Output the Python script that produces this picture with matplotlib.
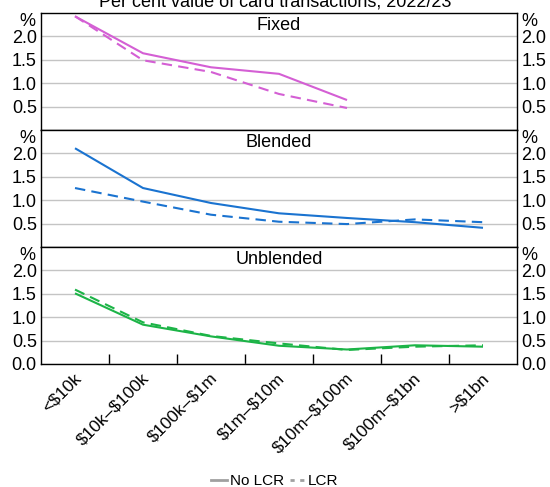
import matplotlib.pyplot as plt
from matplotlib.lines import Line2D
from matplotlib.transforms import ScaledTranslation
import numpy as np

plt.rcParams['font.family'] = ['Liberation Sans', 'DejaVu Sans']

# data
categories = ["<\\$10k", "\\$10k–\\$100k", "\\$100k–\\$1m", "\\$1m–\\$10m",
              "\\$10m–\\$100m", "\\$100m–\\$1bn", ">\\$1bn"]
fixed_no_lcr = [2.43, 1.64, 1.34, 1.20, 0.64]
fixed_lcr = [2.43, 1.49, 1.24, 0.77, 0.47]
blended_no_lcr = [2.11, 1.26, 0.94, 0.72, 0.62, 0.53, 0.41]
blended_lcr = [1.26, 0.97, 0.69, 0.54, 0.49, 0.59, 0.53]
unblended_no_lcr = [1.51, 0.84, 0.59, 0.39, 0.31, 0.40, 0.37]
unblended_lcr = [1.59, 0.89, 0.60, 0.44, 0.30, 0.37, 0.40]

panels = [
    ("Fixed", fixed_no_lcr, fixed_lcr, "#d45fd4"),
    ("Blended", blended_no_lcr, blended_lcr, "#1a73d0"),
    ("Unblended", unblended_no_lcr, unblended_lcr, "#1cb447"),
]

W, H = 550, 487
fig = plt.figure(figsize=(W / 100, H / 100), dpi=100)

left, right = 41 / W, 517 / W
tops = [13, 130, 247]
ph = 117
fs = 13

for i, (name, solid, dashed, col) in enumerate(panels):
    y0 = 1 - (tops[i] + ph) / H
    ax = fig.add_axes([left, y0, right - left, ph / H])
    x = np.arange(len(solid))
    ax.plot(x, solid, color=col, lw=1.5, solid_capstyle='butt')
    ax.plot(x, dashed, color=col, lw=1.5, ls=(0, (5, 3)))
    ax.set_xlim(-0.5, 6.5)
    ax.set_ylim(0, 2.5)
    ticks = [0.5, 1.0, 1.5, 2.0] if i < 2 else [0.0, 0.5, 1.0, 1.5, 2.0]
    ax.set_yticks(ticks)
    ax.set_yticklabels([f"{t:.1f}" for t in ticks])
    ax.yaxis.grid(True, color="#c4c4c4", lw=1)
    ax.set_axisbelow(True)
    ax.tick_params(axis='y', which='both', length=0, labelsize=fs, pad=3,
                   labelleft=True, labelright=True)
    for sp in ax.spines.values():
        sp.set_linewidth(1)
    ax.text(0.5, 0.97, name, transform=ax.transAxes, ha='center', va='top',
            fontsize=fs)
    ax.text(-0.012, 1.0, "%", transform=ax.transAxes, ha='right', va='top',
            fontsize=fs)
    ax.text(1.01, 1.0, "%", transform=ax.transAxes, ha='left', va='top',
            fontsize=fs)
    if i < 2:
        ax.set_xticks([])
    else:
        ax.set_xticks(np.arange(len(categories)))
        ax.set_xticklabels(categories, rotation=45, ha='right', va='center',
                           rotation_mode='anchor', fontsize=12.5)
        ax.set_xticks(np.arange(0.5, 6, 1), minor=True)
        ax.tick_params(axis='x', which='major', length=0, pad=8.5)
        ax.tick_params(axis='x', which='minor', length=7, direction='in',
                       width=1)
        shift = ScaledTranslation(0.035, 0, fig.dpi_scale_trans)
        for lab in ax.get_xticklabels():
            lab.set_transform(lab.get_transform() + shift)

fig.text(0.5, 1 - 2 / H, "Per cent value of card transactions, 2022/23",
         ha='center', va='center', fontsize=fs)

handles = [Line2D([], [], color="#a0a0a0", lw=2),
           Line2D([], [], color="#a0a0a0", lw=2, ls=(0, (1.5, 2)))]
fig.legend(handles, ["No LCR", "LCR"], loc='center',
           bbox_to_anchor=(0.5, 1 - 481 / H), ncol=2, frameon=False,
           fontsize=11, handlelength=1.0, handletextpad=0.2,
           columnspacing=0.4)

fig.savefig("out.png", dpi=100)
